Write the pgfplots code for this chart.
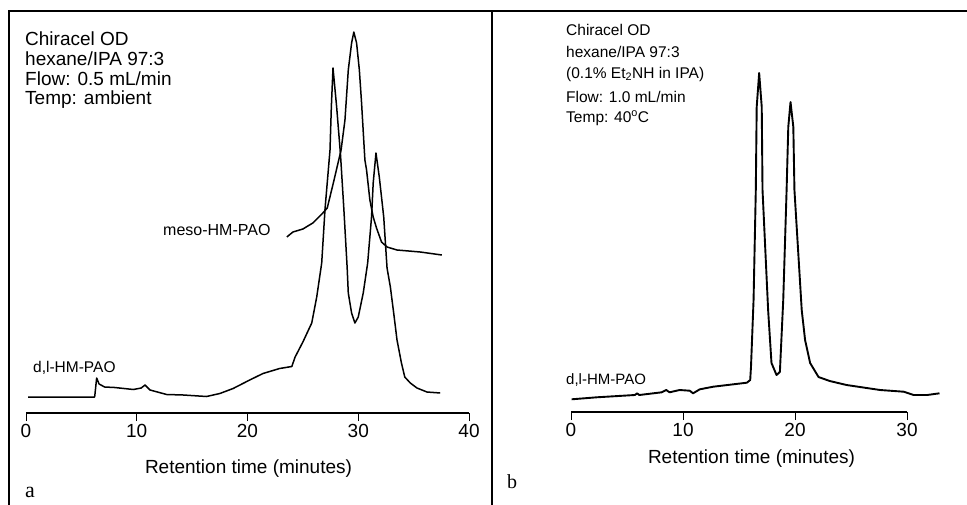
\documentclass[border=0pt]{standalone}
\usepackage{pgfplots}
\pgfplotsset{compat=1.18}
\usepackage{fontspec}
\setmainfont{Liberation Sans}
\newfontfamily\seriffont{Liberation Serif}
\newcommand\fs[1]{\fontsize{#1bp}{#1bp}\selectfont}
\pgfplotsset{
  chrom/.style={
    scale only axis, height=400bp, ymin=0, ymax=400,
    axis x line=bottom, axis y line=none, clip=false,
    tick align=outside, major tick length=8bp, minor tick num=0,
    axis line style={line width=1.3bp,-},
    tick style={line width=1bp, black},
    xticklabel style={font=\fs{19}},
    /pgf/number format/assume math mode=true,
  },
  trace/.style={black, line width=1.5bp, line join=round, mark=none},
}
\begin{document}
\begin{tikzpicture}
\useasboundingbox (0,0) rectangle (967bp,-505bp);
% ---------- panel a ----------
\begin{axis}[chrom, at={(26bp,-413bp)}, anchor=south west, width=443bp,
  xmin=0, xmax=40, xtick={0,10,20,30,40}]
% d,l-HM-PAO
\addplot[trace] coordinates {(0.2,16) (3,16) (6.2,16) (6.38,35) (6.6,29) (7.1,26) (8.0,25.5)
 (9.7,23.5) (10.4,25) (10.75,28) (11.2,23) (12.7,18.5) (14.2,18) (16.3,16.5) (17.5,19.5)
 (18.7,24.5) (20.2,33) (21.4,39.5) (22.9,44.5) (24.0,46.5) (24.3,56) (25.0,71) (25.8,90)
 (26.25,116) (26.7,150) (27.0,204) (27.45,263) (27.57,306) (27.72,345) (28.05,306)
 (28.4,258) (28.7,204) (29.0,145) (29.1,120) (29.4,100) (29.7,90) (30.0,96) (30.45,120)
 (30.85,150) (31.2,196) (31.35,230) (31.6,260) (31.9,236) (32.3,196) (32.6,145)
 (32.9,126) (33.2,100) (33.5,73) (33.9,50) (34.2,36) (34.7,30) (35.3,25) (36.2,21) (37.4,20)};
% meso-HM-PAO
\addplot[trace] coordinates {(23.55,176) (24.1,181) (25.0,184) (25.9,190) (26.8,200) (27.2,205)
 (27.75,230) (28.45,263) (28.8,293) (29.1,343) (29.4,370) (29.6,381) (29.85,370)
 (30.1,343) (30.3,310) (30.6,253) (30.75,243) (31.05,213) (31.35,196) (31.65,185)
 (32.1,171) (32.6,166) (33.5,163) (35.6,161) (37.55,158)};
\end{axis}
% ---------- panel b ----------
\begin{axis}[chrom, at={(571bp,-412bp)}, anchor=south west, width=336bp,
  xmin=0, xmax=30, xtick={0,10,20,30}]
\addplot[trace, line width=1.9bp] coordinates {(0.06,12.7) (2.3,14.7) (5.7,17) (5.9,18.7) (6.1,17)
 (8.1,19.7) (8.5,22) (8.8,19.7) (9.7,22) (10.6,21.3) (10.9,18.7) (11.5,22.7) (12.7,25.3)
 (15.7,29.3) (16.0,32) (16.07,45) (16.3,112) (16.5,222) (16.58,305) (16.8,339)
 (17.03,305) (17.1,222) (17.6,102) (17.9,49) (18.35,37) (18.65,40) (18.95,112)
 (19.25,222) (19.4,285) (19.6,310) (19.85,285) (19.95,222) (20.6,102) (20.9,72)
 (21.35,49) (22.1,35) (23.1,31) (24.6,27) (27.6,22) (29.7,20.3) (30.6,17) (31.8,17) (32.9,18.7)};
\end{axis}
% ---------- frame ----------
\draw[line width=2bp] (8.5bp,-505bp) -- (8.5bp,-11bp) -- (967bp,-11bp);
\draw[line width=1.2bp] (492bp,-11bp) -- (492bp,-505bp);
% ---------- texts panel a ----------
\begin{scope}[every node/.style={anchor=base west, inner sep=0pt, font=\fs{19}}]
\node at (25bp,-45bp) {Chiracel OD};
\node at (25bp,-65bp) {hexane/IPA 97:3};
\node at (25bp,-85bp) {Flow: 0.5 mL/min};
\node at (25bp,-104bp) {Temp: ambient};
\end{scope}
\node[anchor=base west, inner sep=0pt, font=\fs{16}] at (163bp,-235bp) {meso-HM-PAO};
\node[anchor=base west, inner sep=0pt, font=\fs{15.5}] at (33bp,-372bp) {d,l-HM-PAO};
\node[anchor=base, inner sep=0pt, font=\fs{19}] at (248.5bp,-473bp) {Retention time (minutes)};
\node[anchor=base west, inner sep=0pt, font=\seriffont\fs{22}] at (25bp,-497bp) {a};
% ---------- texts panel b ----------
\begin{scope}[every node/.style={anchor=base west, inner sep=0pt, font=\fs{15.5}}]
\node at (566bp,-35bp) {Chiracel OD};
\node at (566bp,-57bp) {hexane/IPA 97:3};
\node at (566bp,-78bp) {(0.1\% Et\textsubscript{2}NH in IPA)};
\node at (566bp,-102bp) {Flow: 1.0 mL/min};
\node at (566bp,-122bp) {Temp: 40\textsuperscript{o}C};
\end{scope}
\node[anchor=base west, inner sep=0pt, font=\fs{15}] at (566bp,-384bp) {d,l-HM-PAO};
\node[anchor=base, inner sep=0pt, font=\fs{19}] at (751.5bp,-463bp) {Retention time (minutes)};
\node[anchor=base west, inner sep=0pt, font=\seriffont\fs{20}] at (507bp,-488bp) {b};
\end{tikzpicture}
\end{document}
